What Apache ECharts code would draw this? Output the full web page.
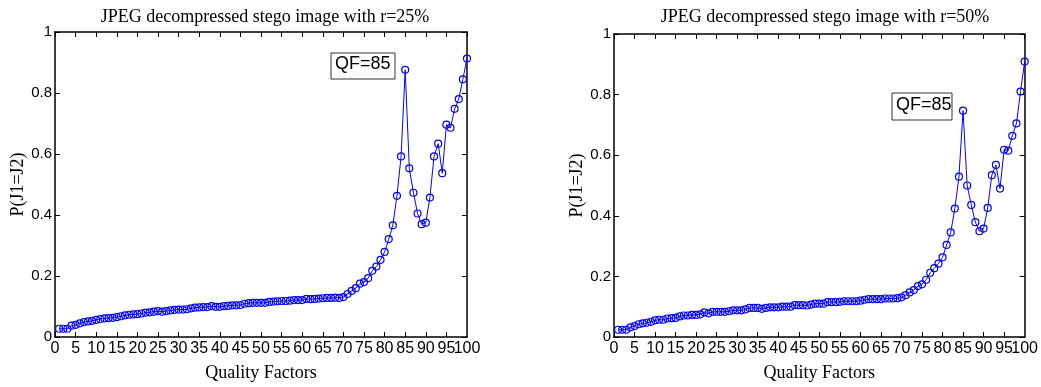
<!DOCTYPE html>
<html>
<head>
<meta charset="utf-8">
<script src="https://cdn.jsdelivr.net/npm/echarts@6/dist/echarts.min.js"></script>
<style>
  html, body { margin: 0; padding: 0; background: #fff; }
  #chart { width: 1041px; height: 387px; }
</style>
</head>
<body>
<div id="chart"></div>
<script>
// 质量因子 1..100
var qualityFactors = [
  1, 2, 3, 4, 5, 6, 7, 8, 9, 10, 11, 12, 13, 14, 15, 16, 17, 18, 19, 20,
  21, 22, 23, 24, 25, 26, 27, 28, 29, 30, 31, 32, 33, 34, 35, 36, 37, 38, 39, 40,
  41, 42, 43, 44, 45, 46, 47, 48, 49, 50, 51, 52, 53, 54, 55, 56, 57, 58, 59, 60,
  61, 62, 63, 64, 65, 66, 67, 68, 69, 70, 71, 72, 73, 74, 75, 76, 77, 78, 79, 80,
  81, 82, 83, 84, 85, 86, 87, 88, 89, 90, 91, 92, 93, 94, 95, 96, 97, 98, 99, 100
];

// r=25%
var probR25 = [
  0.027, 0.027, 0.027, 0.037, 0.040, 0.045, 0.049, 0.051, 0.053, 0.056,
  0.059, 0.061, 0.062, 0.063, 0.065, 0.068, 0.071, 0.073, 0.074, 0.075,
  0.077, 0.080, 0.081, 0.083, 0.085, 0.083, 0.085, 0.087, 0.089, 0.090,
  0.090, 0.091, 0.094, 0.096, 0.097, 0.098, 0.098, 0.101, 0.099, 0.099,
  0.101, 0.102, 0.104, 0.104, 0.105, 0.109, 0.111, 0.112, 0.112, 0.112,
  0.112, 0.115, 0.116, 0.117, 0.118, 0.118, 0.119, 0.121, 0.121, 0.121,
  0.125, 0.124, 0.125, 0.126, 0.127, 0.128, 0.128, 0.129, 0.128, 0.131,
  0.141, 0.151, 0.160, 0.175, 0.180, 0.193, 0.217, 0.231, 0.253, 0.279,
  0.321, 0.366, 0.463, 0.592, 0.876, 0.553, 0.473, 0.405, 0.370, 0.375,
  0.457, 0.592, 0.634, 0.537, 0.696, 0.686, 0.748, 0.780, 0.845, 0.913
];

// r=50%
var probR50 = [
  0.024, 0.024, 0.024, 0.032, 0.036, 0.042, 0.045, 0.047, 0.050, 0.055,
  0.057, 0.057, 0.061, 0.062, 0.063, 0.068, 0.071, 0.071, 0.073, 0.073,
  0.075, 0.081, 0.078, 0.083, 0.083, 0.083, 0.083, 0.085, 0.088, 0.088,
  0.088, 0.091, 0.096, 0.096, 0.096, 0.093, 0.096, 0.098, 0.098, 0.098,
  0.100, 0.100, 0.100, 0.105, 0.105, 0.105, 0.104, 0.107, 0.110, 0.110,
  0.110, 0.115, 0.115, 0.115, 0.116, 0.118, 0.118, 0.118, 0.118, 0.120,
  0.123, 0.125, 0.125, 0.125, 0.125, 0.127, 0.127, 0.127, 0.128, 0.131,
  0.138, 0.147, 0.155, 0.168, 0.174, 0.189, 0.212, 0.227, 0.242, 0.263,
  0.304, 0.345, 0.424, 0.529, 0.747, 0.500, 0.436, 0.379, 0.349, 0.358,
  0.426, 0.534, 0.568, 0.490, 0.618, 0.615, 0.664, 0.705, 0.810, 0.909
];

var panelTitles = ['JPEG decompressed stego image with r=25%', 'JPEG decompressed stego image with r=50%'];
var xAxisName = 'Quality Factors';
var yAxisName = 'P(J1=J2)';
var annotationText = 'QF=85';

var chart = echarts.init(document.getElementById('chart'));

var grids = [
  { left: 55, right: 574, top: 32, bottom: 42 },
  { left: 614, right: 16, top: 34, bottom: 44 }
];

function pairs(ys) {
  return qualityFactors.map(function (q, i) { return [q, ys[i]]; });
}

var labelFont = { fontFamily: 'Liberation Sans, Arial', fontSize: 16, color: '#000' };
var serifFont = { fontFamily: 'Liberation Serif, Times New Roman', fontSize: 18, color: '#000' };

var xAxes = [], yAxes = [];
[0, 1].forEach(function (g) {
  // 底部主 x 轴（最大值标签另画，避免与 95 重叠被隐藏）
  xAxes.push({
    gridIndex: g, type: 'value', min: 0, max: 100, interval: 5,
    name: xAxisName, nameLocation: 'middle', nameGap: 27, nameTextStyle: serifFont,
    axisLine: { onZero: false, lineStyle: { color: '#000', width: 1.5 } },
    axisTick: { inside: true, length: 5, lineStyle: { color: '#000' } },
    axisLabel: Object.assign({ margin: 4, showMinLabel: true, showMaxLabel: false }, labelFont),
    splitLine: { show: false }
  });
  // 顶部（只有刻度）
  xAxes.push({
    gridIndex: g, type: 'value', min: 0, max: 100, interval: 5, position: 'top',
    axisLine: { onZero: false, lineStyle: { color: '#000', width: 1.5 } },
    axisTick: { inside: true, length: 5, lineStyle: { color: '#000' } },
    axisLabel: { show: false }, splitLine: { show: false }
  });
  // 只画 "100"
  xAxes.push({
    gridIndex: g, type: 'value', min: 0, max: 100, interval: 5, position: 'bottom',
    axisLine: { show: false, onZero: false }, axisTick: { show: false },
    axisLabel: Object.assign({
      margin: 4, showMinLabel: false, showMaxLabel: true,
      formatter: function (v) { return v === 100 ? '100' : ''; }
    }, labelFont),
    splitLine: { show: false }
  });
  yAxes.push({
    gridIndex: g, type: 'value', min: 0, max: 1, interval: 0.2,
    name: yAxisName, nameLocation: 'middle', nameGap: 24, nameTextStyle: serifFont,
    axisLine: { show: true, onZero: false, lineStyle: { color: '#000', width: 1.5 } },
    axisTick: { show: true, inside: true, length: 5, lineStyle: { color: '#000' } },
    axisLabel: Object.assign({ margin: 3 }, labelFont, { fontSize: 15 }),
    splitLine: { show: false }
  });
  yAxes.push({
    gridIndex: g, type: 'value', min: 0, max: 1, interval: 0.2, position: 'right',
    axisLine: { show: true, onZero: false, lineStyle: { color: '#000', width: 1.5 } },
    axisTick: { show: true, inside: true, length: 5, lineStyle: { color: '#000' } },
    axisLabel: { show: false }, splitLine: { show: false }
  });
});

function lineSeries(g, ys) {
  return {
    type: 'line', xAxisIndex: g * 3, yAxisIndex: g * 2,
    data: pairs(ys),
    symbol: 'circle', symbolSize: 7, showAllSymbol: true,
    itemStyle: { color: 'rgba(255,255,255,0)', borderColor: '#0000ff', borderWidth: 1.2 },
    lineStyle: { color: '#0000ff', width: 1 },
    animation: false
  };
}

var option = {
  animation: false,
  title: [
    { text: panelTitles[0], left: 260, top: 3, textAlign: 'center',
      textStyle: Object.assign({ fontWeight: 'normal' }, serifFont) },
    { text: panelTitles[1], left: 820, top: 3, textAlign: 'center',
      textStyle: Object.assign({ fontWeight: 'normal' }, serifFont) }
  ],
  grid: grids,
  xAxis: xAxes,
  yAxis: yAxes,
  series: [lineSeries(0, probR25), lineSeries(1, probR50)],
  graphic: [
    { type: 'rect', shape: { x: 331, y: 53, width: 64, height: 26 },
      style: { fill: '#fff', stroke: '#333', lineWidth: 1 } },
    { type: 'text', x: 335, y: 55,
      style: { text: annotationText, font: '18px Liberation Sans, Arial', fill: '#000' } },
    { type: 'rect', shape: { x: 892, y: 93, width: 60, height: 27 },
      style: { fill: '#fff', stroke: '#333', lineWidth: 1 } },
    { type: 'text', x: 896, y: 96,
      style: { text: annotationText, font: '18px Liberation Sans, Arial', fill: '#000' } }
  ]
};

chart.setOption(option);
</script>
</body>
</html>
